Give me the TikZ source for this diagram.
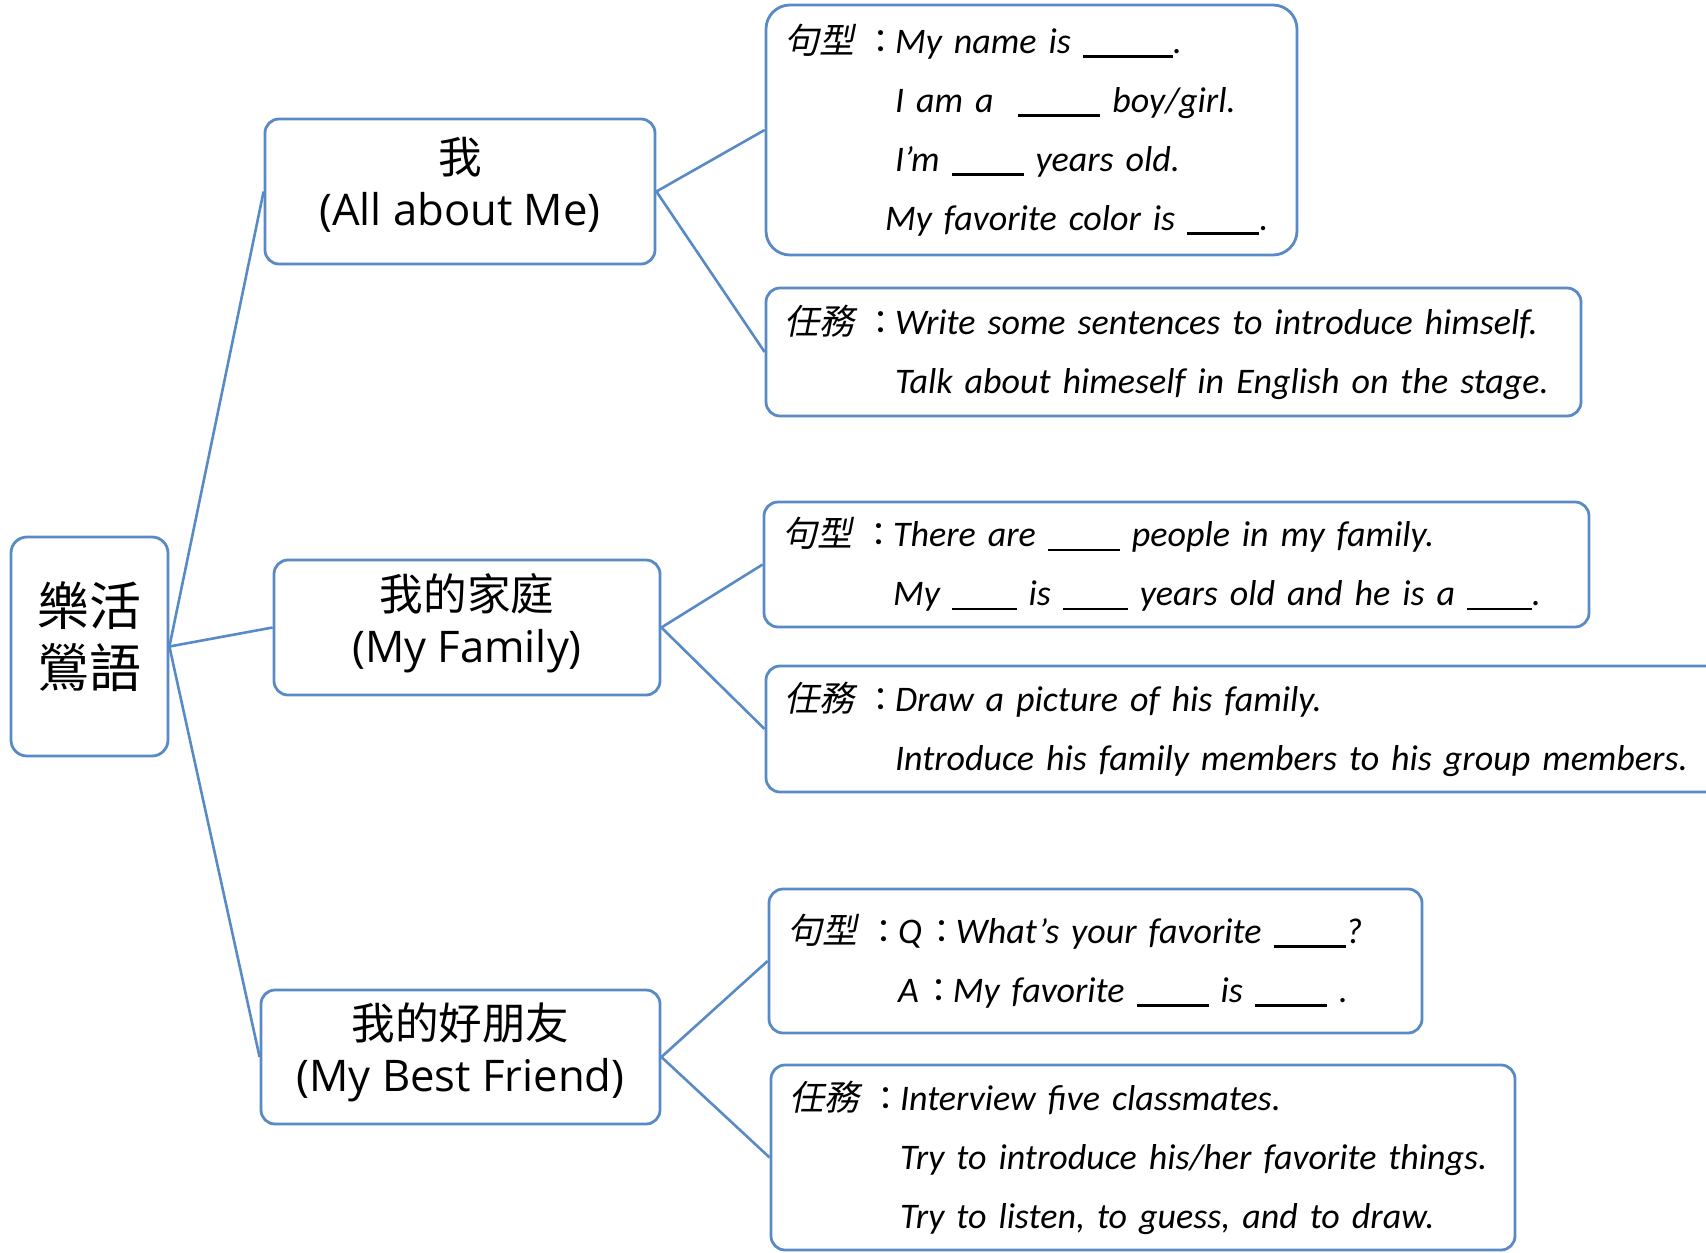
\documentclass[tikz,border=0pt]{standalone}
\usepackage{fontspec}
\setmainfont{Carlito}
\newfontfamily\cjk{Noto Sans CJK TC}
\newfontfamily\cjkit[FakeSlant=0.2]{Noto Sans CJK TC}
\newfontfamily\headfont{Open Sans}
\definecolor{mapblue}{RGB}{88,138,198}
\newcommand\pfx[1]{\makebox[55.5pt][l]{{\cjkit\fontsize{17.5}{17.5}\selectfont #1}\hspace{5pt}{\cjk\fontsize{16.5}{16.5}\selectfont ：}}}
\newcommand\ind{\hspace*{55.5pt}}
\newcommand\col{\hspace{-4pt}{\cjk\fontsize{16.5}{16.5}\selectfont ：}\hspace{-1.5pt}}
\newcommand\blank[1]{\rule[-0.12em]{#1em}{0.06em}}
\tikzset{
  frame/.style={draw=mapblue, line width=1.4pt, fill=white, rounded corners=7pt},
  topic/.style={frame, align=center, font=\fontsize{21.8}{26}\selectfont},
  leaf/.style={frame, align=left, inner xsep=9pt, font=\fontsize{18}{29.5}\selectfont\itshape},
  link/.style={draw=mapblue, line width=1.3pt}
}
\begin{document}
\begin{tikzpicture}[x=0.5pt,y=-0.5pt]
        \clip (0,0) rectangle (1706,1252);

        \node[frame, minimum width=78.5pt, minimum height=109.5pt, rounded corners=8pt,
              align=center, font=\cjk\fontsize{26}{31}\selectfont] (root) at (89.5,646.5)
            {樂活\\鶯語\rule[-12pt]{0pt}{12pt}};

        \node[topic, minimum width=195pt, minimum height=72.5pt] (me) at (460,191.5)
            {{\cjk 我}\\{\headfont (All about Me)}\rule[-10pt]{0pt}{10pt}};
        \node[topic, minimum width=193pt, minimum height=67.5pt] (family) at (467,627.5)
            {{\cjk 我的家庭}\\{\headfont (My Family)}\rule[-10pt]{0pt}{10pt}};
        \node[topic, minimum width=199.5pt, minimum height=67pt] (friend) at (460.5,1057)
            {{\cjk 我的好朋友}\\{\headfont (My Best Friend)}\rule[-10pt]{0pt}{10pt}};

        \node[leaf, text width=247.5pt, minimum height=125pt, rounded corners=12pt] (meS) at (1031.5,130)
            {\pfx{句型}My name is \blank{2.5}.\\
             \ind I am a \ \blank{2.3} boy/girl.\\
             \ind I’m \blank{2} years old.\\
             \ind\hspace*{-5pt}My favorite color is \blank{2}.};
        \node[leaf, text width=389.5pt, minimum height=64pt] (meT) at (1173.5,352)
            {\pfx{任務}Write some sentences to introduce himself.\\
             \ind Talk about himeself in English on the stage.};

        \node[leaf, text width=394.5pt, minimum height=62.5pt] (famS) at (1176.5,564.5)
            {\pfx{句型}There are \blank{2} people in my family.\\
             \ind My \blank{1.8} is \blank{1.8} years old and he is a \blank{1.8}.};
        \node[leaf, text width=464pt, minimum height=63pt] (famT) at (1248,729)
            {\pfx{任務}Draw a picture of his family.\\
             \ind Introduce his family members to his group members.};

        \node[leaf, text width=308.5pt, minimum height=72pt] (friS) at (1095.5,961)
            {\pfx{句型}Q \col What's your favorite \blank{2}?\\
             \ind A \col My favorite \blank{2} is \blank{2} .};
        \node[leaf, text width=354pt, minimum height=92.5pt] (friT) at (1143,1157.5)
            {\pfx{任務}Interview five classmates.\\
             \ind Try to introduce his/her favorite things.\\
             \ind Try to listen, to guess, and to draw.};

        \draw[link] (root.east) -- (me.west);
        \draw[link] (root.east) -- (family.west);
        \draw[link] (root.east) -- (friend.west);

        \draw[link] (me.east) -- (meS.west);
        \draw[link] (me.east) -- (meT.west);
        \draw[link] (family.east) -- (famS.west);
        \draw[link] (family.east) -- (famT.west);
        \draw[link] (friend.east) -- (friS.west);
        \draw[link] (friend.east) -- (friT.west);
    \end{tikzpicture}
\end{document}
